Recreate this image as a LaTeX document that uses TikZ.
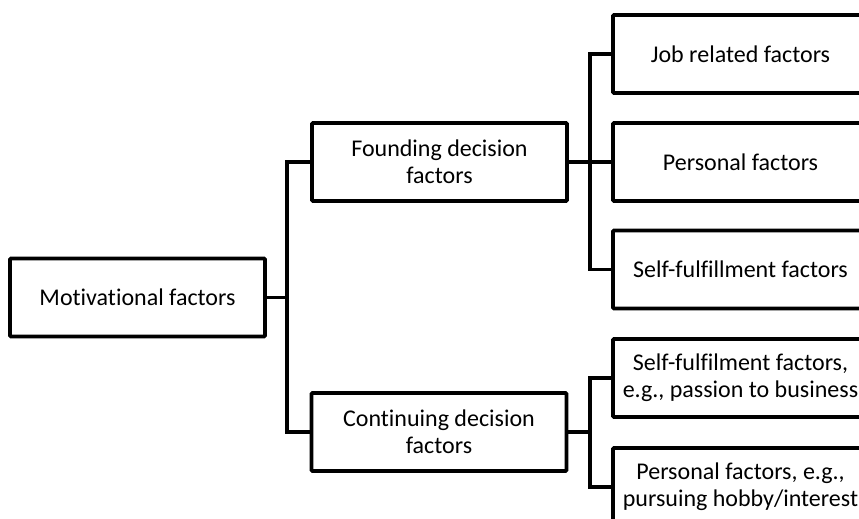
\documentclass[tikz,border=0pt]{standalone}
\usepackage{fontspec}
\setmainfont[Ligatures={NoCommon}]{Carlito}
\begin{document}
\begin{tikzpicture}[x=1pt,y=-1pt,
  box/.style={draw=black, line width=3.6pt, fill=white, minimum width=255pt, minimum height=78pt,
    align=center, font=\fontsize{24}{27}\selectfont, inner sep=2pt, rounded corners=1pt},
  conn/.style={draw=black, line width=3.6pt, line join=miter}]
\useasboundingbox (0,0) rectangle (859,519);
\clip (0,0) rectangle (859,519);
\coordinate (t1) at (287,0);
\coordinate (t2) at (590,0);
\coordinate (t3) at (590,0);
\node[box] (mot) at (137.5,297.5) {Motivational factors};
\node[box] (fd) at (439.5,162) {Founding decision\\factors};
\node[box] (cd) at (439,432) {Continuing decision\\factors};
\node[box] (job) at (740.5,54) {Job related factors};
\node[box] (pers) at (740.5,162) {Personal factors};
\node[box] (sf) at (740.5,269.5) {Self-fulfillment factors};
\node[box] (sfe) at (740.5,378) {Self-fulfilment factors,\\e.g., passion to business};
\node[box] (pe) at (740.5,487) {Personal factors, e.g.,\\pursuing hobby/interest};
\draw[conn] (mot.east) -- (mot.east -| t1);
\draw[conn] (fd.west) -- (fd.west -| t1) -- (cd.west -| t1) -- (cd.west);
\draw[conn] (fd.east) -- (pers.west);
\draw[conn] (job.west) -- (job.west -| t2) -- (sf.west -| t2) -- (sf.west);
\draw[conn] (cd.east) -- (cd.east -| t3);
\draw[conn] (sfe.west) -- (sfe.west -| t3) -- (pe.west -| t3) -- (pe.west);
\end{tikzpicture}
\end{document}
